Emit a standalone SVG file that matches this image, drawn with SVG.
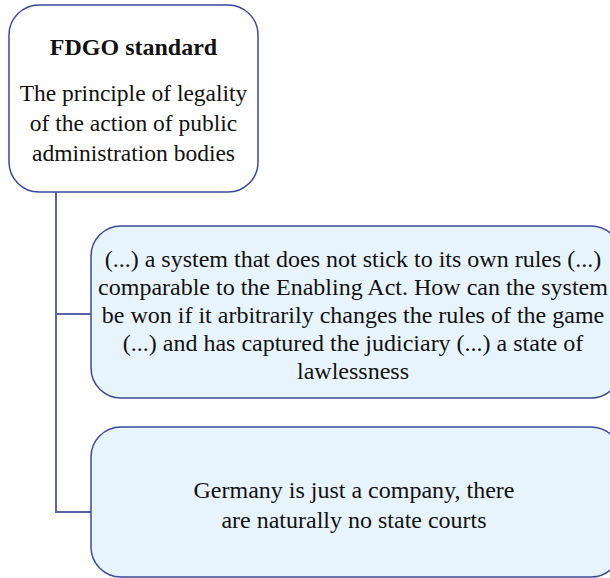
<svg xmlns="http://www.w3.org/2000/svg" width="610" height="578" viewBox="0 0 610 578">
<style>
.box{stroke:#3b4a9a;stroke-width:1.5}
.root{fill:#ffffff}
.leaf{fill:#e8f4fd}
.t{font-family:"Liberation Serif",serif;font-size:24px;fill:#111111;text-anchor:middle}
.title{font-weight:bold}
.small{font-size:23.5px}
.conn{fill:none;stroke:#5a64a8;stroke-width:2}
</style>
<rect width="610" height="578" fill="#ffffff"/>
<g id="connectors">
<path class="conn" d="M56 192 V512 H91"/>
<path class="conn" d="M56 314 H91"/>
</g>
<g id="node-fdgo">
<rect class="box root" x="9" y="5" width="249" height="187" rx="30"/>
<text class="t title" x="133.5" y="55">FDGO standard</text>
<text class="t small" x="133.5" y="101">The principle of legality</text>
<text class="t small" x="133.5" y="131">of the action of public</text>
<text class="t small" x="133.5" y="161">administration bodies</text>
</g>
<g id="node-system">
<rect class="box leaf" x="91" y="226" width="530" height="172" rx="30"/>
<text class="t" x="353" y="267">(...) a system that does not stick to its own rules (...)</text>
<text class="t" x="353" y="295">comparable to the Enabling Act. How can the system</text>
<text class="t" x="353" y="323">be won if it arbitrarily changes the rules of the game</text>
<text class="t" x="353" y="351">(...) and has captured the judiciary (...) a state of</text>
<text class="t" x="353" y="379">lawlessness</text>
</g>
<g id="node-company">
<rect class="box leaf" x="91" y="427" width="530" height="150" rx="30"/>
<text class="t" x="354" y="498">Germany is just a company, there</text>
<text class="t" x="354" y="528">are naturally no state courts</text>
</g>
</svg>
